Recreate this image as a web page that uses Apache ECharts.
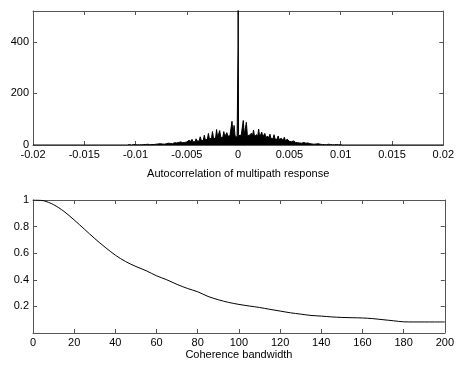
<!DOCTYPE html>
<html><head><meta charset="utf-8">
<script src="https://cdn.jsdelivr.net/npm/echarts@6/dist/echarts.min.js"></script>
<style>html,body{margin:0;padding:0;background:#fff}#c{width:457px;height:368px}</style>
</head><body><div id="c"></div>
<script>
// Top plot: autocorrelation, lag grid from -0.011 to 0.011 in steps of 0.0001
const lagStart = -0.011;
const lagStep = 0.0001;
const acfValues = [
  0,1,0,1,2,1,0,1,2,1,
  1,2,1,0,1,2,1,1,2,1,
  2,1,3,2,1,3,2,4,2,3,
  3,2,4,3,5,3,4,6,3,5,
  5,4,7,5,6,8,5,7,9,6,
  8,6,10,7,12,8,9,14,10,11,
  12,10,18,11,14,22,12,16,13,24,
  16,20,15,32,18,22,17,38,20,24,
  22,45,24,28,26,52,25,30,27,60,
  28,32,56,30,34,29,52,33,31,48,
  34,38,36,40,92,37,76,35,40,30,
  600,
  32,42,38,36,95,39,41,88,36,40,
  38,34,46,36,58,33,35,40,32,62,
  30,36,50,31,28,45,30,27,34,26,
  42,25,28,24,40,23,26,22,35,21,
  20,26,19,18,30,17,16,22,15,14,
  18,13,12,16,11,10,14,9,10,8,
  9,7,8,10,6,7,5,8,6,5,
  6,4,5,3,5,4,3,5,2,3,
  4,2,3,2,3,1,2,3,1,2,
  2,1,2,1,1,2,1,1,0,1,
  0,0,0,0,0,0,0,0,0,0
];
// fine samples right around zero lag (the narrow central peak)
const centerLags = [-0.00005, -0.00001, 0.00004];
const centerValues = [35, 380, 36];
const lagRange = [-0.02, 0.02];

// Bottom plot: coherence bandwidth curve
const bw = [0,5,10,15,20,25,30,35,40,45,50,55,60,65,70,75,80,85,90,95,100,105,110,115,120,125,130,135,140,145,150,155,160,165,170,175,180,185,190,195,200];
const coh = [1.0,0.995,0.965,0.915,0.85,0.78,0.71,0.645,0.585,0.537,0.50,0.468,0.43,0.40,0.365,0.335,0.31,0.275,0.25,0.23,0.215,0.203,0.192,0.178,0.165,0.152,0.142,0.132,0.127,0.121,0.117,0.115,0.113,0.108,0.100,0.092,0.084,0.083,0.083,0.083,0.083];

const topData = [[lagRange[0], 0]];
acfValues.forEach((v, i) => topData.push([+(lagStart + i * lagStep).toFixed(5), v]));
centerLags.forEach((x, i) => topData.push([x, centerValues[i]]));
topData.push([lagRange[1], 0]);
topData.sort((a, b) => a[0] - b[0]);
const botData = bw.map((x, i) => [x, coh[i]]);

const FONT = 'Liberation Sans, Arial, sans-serif';
const frameColor = '#555';
const lab = {color: '#000', fontSize: 11, fontFamily: FONT};
function fmtTop(v){ return Number(v.toFixed(3)).toString(); }

function frameX(gi, pos, extra) {
  return Object.assign({
    type: 'value', gridIndex: gi, position: pos,
    axisLine: {show: true, onZero: false, lineStyle: {color: frameColor, width: 1}},
    axisTick: {show: true, inside: true, length: 4, lineStyle: {color: frameColor}},
    splitLine: {show: false},
  }, extra);
}

const chart = echarts.init(document.getElementById('c'), null, {renderer: 'canvas'});
chart.setOption({
  animation: false,
  backgroundColor: '#fff',
  grid: [
    {left: 33, top: 11, width: 412, height: 134},
    {left: 33, top: 200, width: 412, height: 133}
  ],
  xAxis: [
    frameX(0, 'bottom', {min: -0.02, max: 0.02, interval: 0.005,
      axisLabel: Object.assign({margin: 4, formatter: fmtTop, showMinLabel: true, showMaxLabel: true}, lab),
      name: 'Autocorrelation of multipath response', nameLocation: 'middle', nameGap: 23,
      nameTextStyle: {color: '#000', fontSize: 11, fontFamily: FONT}}),
    frameX(0, 'top', {min: -0.02, max: 0.02, interval: 0.005, axisLabel: {show: false}}),
    frameX(1, 'bottom', {min: 0, max: 200, interval: 20,
      axisLabel: Object.assign({margin: 4}, lab),
      name: 'Coherence bandwidth', nameLocation: 'middle', nameGap: 16,
      nameTextStyle: {color: '#000', fontSize: 11, fontFamily: FONT}}),
    frameX(1, 'top', {min: 0, max: 200, interval: 20, axisLabel: {show: false}})
  ],
  yAxis: [
    frameX(0, 'left', {min: 0, max: 520, interval: 200,
      axisLabel: Object.assign({margin: 4, showMaxLabel: false}, lab)}),
    frameX(0, 'right', {min: 0, max: 520, interval: 200, axisLabel: {show: false}}),
    frameX(1, 'left', {min: 0, max: 1, interval: 0.2,
      axisLabel: Object.assign({margin: 4, showMinLabel: false,
        formatter: v => v === 0 ? '' : Number(v.toFixed(1)).toString()}, lab)}),
    frameX(1, 'right', {min: 0, max: 1, interval: 0.2, axisLabel: {show: false}})
  ],
  series: [
    {type: 'line', xAxisIndex: 0, yAxisIndex: 0, data: topData, showSymbol: false, symbol: 'none',
     clip: true, lineStyle: {color: '#000', width: 1}, itemStyle: {color: '#000'},
     areaStyle: {color: '#000', opacity: 1}},
    {type: 'line', xAxisIndex: 2, yAxisIndex: 2, data: botData, showSymbol: false, symbol: 'none',
     smooth: 0.3, clip: true, lineStyle: {color: '#000', width: 1}, itemStyle: {color: '#000'}}
  ]
});
</script></body></html>
